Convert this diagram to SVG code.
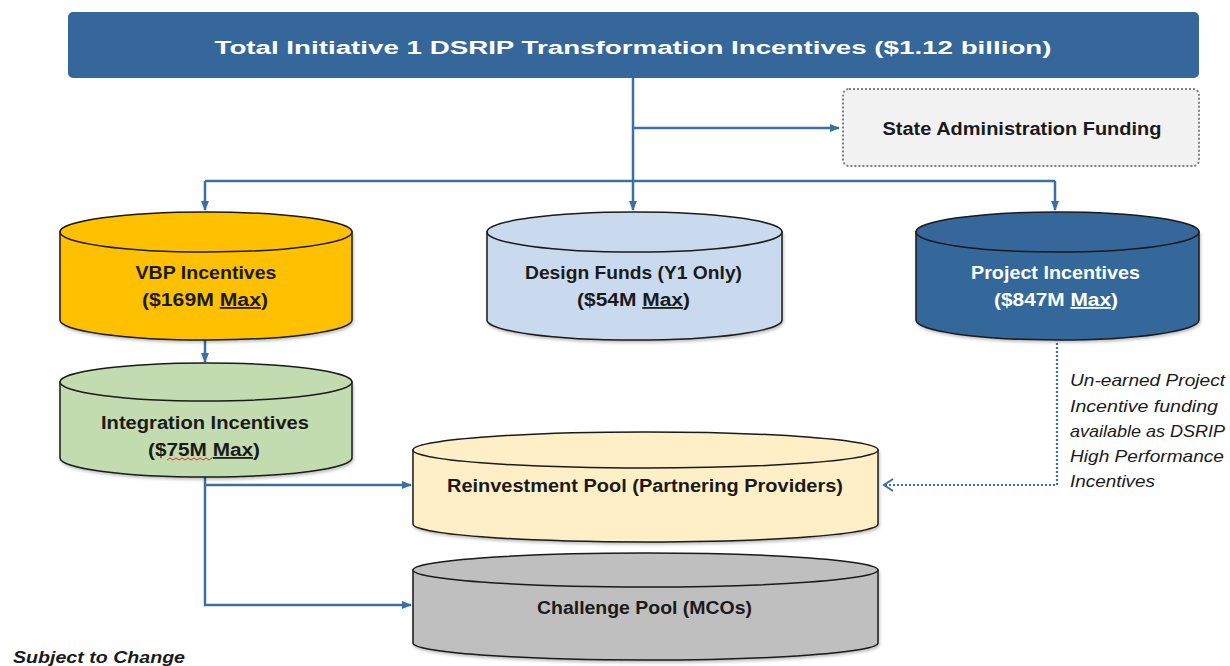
<svg xmlns="http://www.w3.org/2000/svg" width="1230" height="666" viewBox="0 0 1230 666">
<style>
.lbl{font-family:"Liberation Sans",Arial,sans-serif;font-weight:bold;font-size:18px;fill:#1a1a1a;text-anchor:middle}
.wh{fill:#ffffff}
.it{font-family:"Liberation Sans",Arial,sans-serif;font-style:italic;font-size:17px;fill:#1a1a1a}
.cyl{stroke:#1a1a1a;stroke-width:1.5}
.con{fill:none;stroke:#3C6FA6;stroke-width:2.5}
.dot{fill:none;stroke:#3C6FA6;stroke-width:2.2;stroke-dasharray:2 2}
.u{text-decoration:underline}
</style>
<defs>
<marker id="arr" markerUnits="userSpaceOnUse" markerWidth="10" markerHeight="10" refX="9" refY="5" orient="auto">
<path d="M0,1 L10,5 L0,9 Z" fill="#3C6FA6"/>
</marker>
<marker id="chev" markerUnits="userSpaceOnUse" markerWidth="12" markerHeight="14" refX="10" refY="7" orient="auto">
<path d="M1,1 L10,7 L1,13" fill="none" stroke="#3C6FA6" stroke-width="2"/>
</marker>
<filter id="sh" x="-5%" y="-10%" width="110%" height="125%">
<feDropShadow dx="1" dy="2" stdDeviation="1.5" flood-color="#000" flood-opacity="0.25"/>
</filter>
</defs>

<g id="connectors">
<path class="con" d="M633,78 V210" marker-end="url(#arr)"/>
<path class="con" d="M633,128 H839" marker-end="url(#arr)"/>
<path class="con" d="M205,181 H1055"/>
<path class="con" d="M1055,181 V210" marker-end="url(#arr)"/>
<path class="con" d="M205,181 V210" marker-end="url(#arr)"/>
<path class="con" d="M205,340 V362" marker-end="url(#arr)"/>
<path class="con" d="M205,477 V605 H411" marker-end="url(#arr)"/>
<path class="con" d="M205,485 H411" marker-end="url(#arr)"/>
<path class="dot" d="M1057,343 V485 H884" marker-end="url(#chev)"/>
</g>

<g id="title">
<rect x="68" y="12" width="1131" height="66" rx="5" fill="#35679A"/>
<text class="lbl wh" x="633" y="54" font-size="26" textLength="837" lengthAdjust="spacingAndGlyphs">Total Initiative 1 DSRIP Transformation Incentives ($1.12 billion)</text>
</g>

<g id="state-admin">
<rect x="843" y="89" width="356" height="77" rx="6" fill="#F2F2F2" stroke="#808080" stroke-width="2" stroke-dasharray="2 2"/>
<text class="lbl" x="1022" y="135" textLength="279" lengthAdjust="spacingAndGlyphs">State Administration Funding</text>
</g>

<g id="vbp">
<path class="cyl" filter="url(#sh)" fill="#FFC000" d="M60,232 V320 A146,20 0 0 0 352,320 V232 Z"/>
<ellipse class="cyl" cx="206" cy="232" rx="146" ry="20" fill="#FFC000"/>
<text class="lbl" x="206" y="279" textLength="141" lengthAdjust="spacingAndGlyphs">VBP Incentives</text>
<text class="lbl" x="205" y="306" textLength="126" lengthAdjust="spacingAndGlyphs">($169M <tspan class="u">Max</tspan>)</text>
</g>

<g id="design">
<path class="cyl" filter="url(#sh)" fill="#CADAEE" d="M487,232 V320 A147.5,20 0 0 0 782,320 V232 Z"/>
<ellipse class="cyl" cx="634.5" cy="232" rx="147.5" ry="20" fill="#CADAEE"/>
<text class="lbl" x="633.5" y="279" textLength="217" lengthAdjust="spacingAndGlyphs">Design Funds (Y1 Only)</text>
<text class="lbl" x="633.5" y="306" textLength="113" lengthAdjust="spacingAndGlyphs">($54M <tspan class="u">Max</tspan>)</text>
</g>

<g id="project">
<path class="cyl" filter="url(#sh)" fill="#35679A" d="M916,232 V320 A141.5,20 0 0 0 1199,320 V232 Z"/>
<ellipse class="cyl" cx="1057.5" cy="232" rx="141.5" ry="20" fill="#35679A"/>
<text class="lbl wh" x="1055.5" y="279" textLength="169" lengthAdjust="spacingAndGlyphs">Project Incentives</text>
<text class="lbl wh" x="1056" y="306" textLength="124" lengthAdjust="spacingAndGlyphs">($847M <tspan class="u">Max</tspan>)</text>
</g>

<g id="integration">
<path class="cyl" filter="url(#sh)" fill="#C3DCAF" d="M60,382 V458 A146,19 0 0 0 352,458 V382 Z"/>
<ellipse class="cyl" cx="206" cy="382" rx="146" ry="19" fill="#C3DCAF"/>
<text class="lbl" x="205" y="429" textLength="208" lengthAdjust="spacingAndGlyphs">Integration Incentives</text>
<text class="lbl" x="204" y="456" textLength="112" lengthAdjust="spacingAndGlyphs">($75M <tspan class="u">Max</tspan>)</text>
<path d="M167,460 l3,-2 l3,2 l3,-2 l3,2 l3,-2 l3,2 l3,-2 l3,2 l3,-2 l3,2 l3,-2 l3,2 l3,-2 l3,2 l3,-2" fill="none" stroke="#E03030" stroke-width="1"/>
</g>

<g id="reinvestment">
<path class="cyl" filter="url(#sh)" fill="#FEEFC7" d="M413,450 V524 A232.5,18 0 0 0 878,524 V450 Z"/>
<ellipse class="cyl" cx="645.5" cy="450" rx="232.5" ry="18" fill="#FEEFC7"/>
<text class="lbl" x="645" y="492" textLength="396" lengthAdjust="spacingAndGlyphs">Reinvestment Pool (Partnering Providers)</text>
</g>

<g id="challenge">
<path class="cyl" filter="url(#sh)" fill="#BFBFBF" d="M413,570 V643 A232.5,17 0 0 0 878,643 V570 Z"/>
<ellipse class="cyl" cx="645.5" cy="570" rx="232.5" ry="17" fill="#BFBFBF"/>
<text class="lbl" x="644.5" y="614" textLength="215" lengthAdjust="spacingAndGlyphs">Challenge Pool (MCOs)</text>
</g>

<g id="note">
<text class="it" x="1070" y="386" textLength="155" lengthAdjust="spacingAndGlyphs">Un-earned Project</text>
<text class="it" x="1070" y="412" textLength="148" lengthAdjust="spacingAndGlyphs">Incentive funding</text>
<text class="it" x="1070" y="437" textLength="155" lengthAdjust="spacingAndGlyphs">available as DSRIP</text>
<text class="it" x="1070" y="462" textLength="154" lengthAdjust="spacingAndGlyphs">High Performance</text>
<text class="it" x="1070" y="487" textLength="85" lengthAdjust="spacingAndGlyphs">Incentives</text>
</g>

<g id="subject">
<text class="it" x="13" y="663" font-weight="bold" font-size="18" textLength="172" lengthAdjust="spacingAndGlyphs">Subject to Change</text>
</g>
</svg>
